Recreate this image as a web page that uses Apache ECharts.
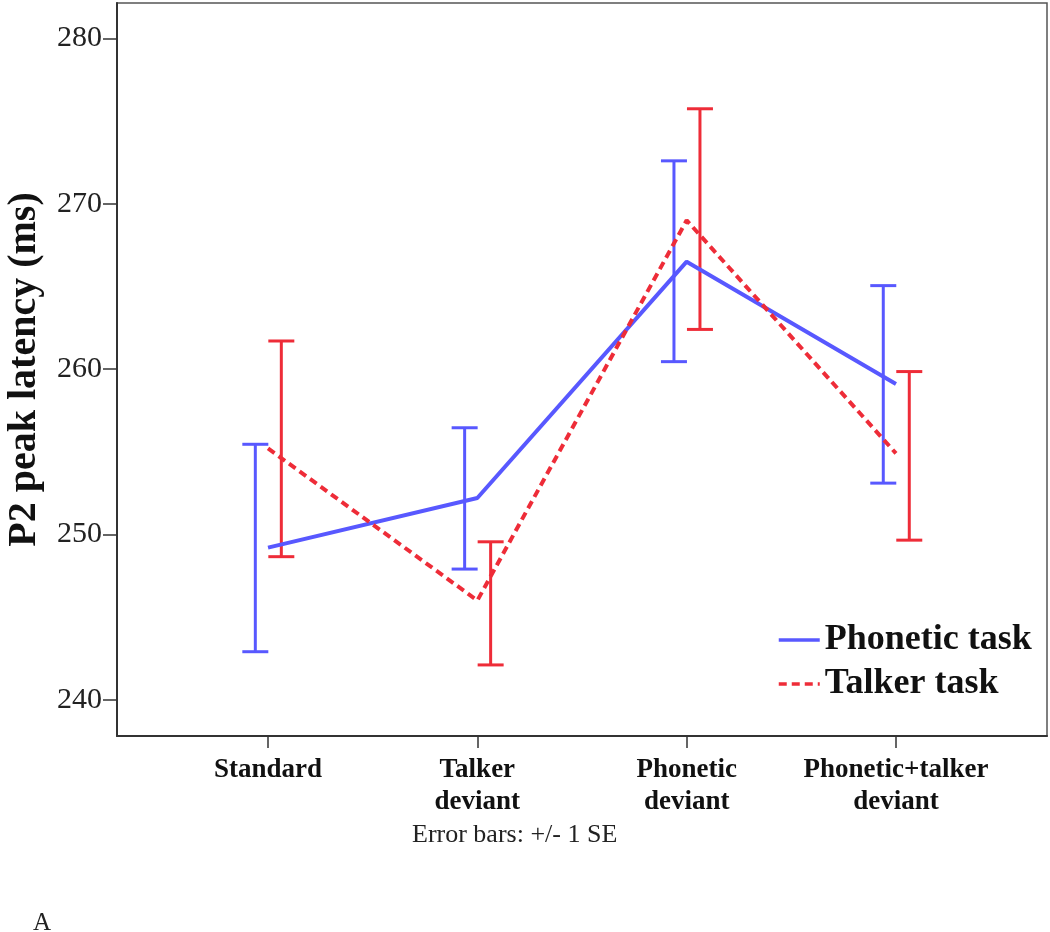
<!DOCTYPE html>
<html>
<head>
<meta charset="utf-8">
<script src="https://cdn.jsdelivr.net/npm/echarts@6/dist/echarts.min.js"></script>
<style>
html,body{margin:0;padding:0;background:#fff;}
#chart{width:1050px;height:932px;}
</style>
</head>
<body>
<div id="chart"></div>
<script>
// ---- data ----
const categories = ['Standard', 'Talker\ndeviant', 'Phonetic\ndeviant', 'Phonetic+talker\ndeviant'];
const yTicks = [240, 250, 260, 270, 280];
const seriesNames = ['Phonetic task', 'Talker task'];
const phoneticMean = [249.2, 252.2, 266.5, 259.1];
const phoneticLow  = [242.9, 247.9, 260.45, 253.1];
const phoneticHigh = [255.45, 256.45, 272.6, 265.05];
const talkerMean = [255.2, 246.0, 269.0, 254.9];
const talkerLow  = [248.65, 242.1, 262.4, 249.65];
const talkerHigh = [261.7, 249.55, 275.75, 259.85];
const errorNote = 'Error bars: +/- 1 SE';
const panelLabel = 'A';

// ---- styling ----
const BLUE = '#5858ff';
const RED = '#ee2c38';
const SERIF = '"Liberation Serif", "Times New Roman", serif';

const idx = categories.map((c, i) => i);
const meanPts = arr => arr.map((v, i) => [idx[i], v]);
const errPts = (lo, hi) => lo.map((v, i) => [idx[i], v, hi[i]]);

function errRender(offsetPx, color) {
  return function (params, api) {
    const x = api.value(0), lo = api.value(1), hi = api.value(2);
    const pLo = api.coord([x, lo]);
    const pHi = api.coord([x, hi]);
    const cx = pLo[0] + offsetPx;
    const hw = 13;
    const style = { stroke: color, lineWidth: 3 };
    return {
      type: 'group',
      children: [
        { type: 'line', shape: { x1: cx, y1: pLo[1], x2: cx, y2: pHi[1] }, style },
        { type: 'line', shape: { x1: cx - hw, y1: pLo[1], x2: cx + hw, y2: pLo[1] }, style },
        { type: 'line', shape: { x1: cx - hw, y1: pHi[1], x2: cx + hw, y2: pHi[1] }, style }
      ]
    };
  };
}

const chart = echarts.init(document.getElementById('chart'), null, { renderer: 'canvas' });
chart.setOption({
  backgroundColor: '#ffffff',
  animation: false,
  grid: {
    left: 117, right: 3, top: 3, bottom: 196,
    outerBoundsMode: 'none', containLabel: false,
    show: true, borderColor: '#555', borderWidth: 1.5, backgroundColor: 'transparent'
  },
  xAxis: {
    type: 'value',
    min: -0.7215, max: 3.7215,
    splitLine: { show: false },
    axisLine: { show: true, onZero: false, lineStyle: { color: '#333', width: 2 } },
    axisTick: { show: true, customValues: idx, length: 12, lineStyle: { color: '#333', width: 1.5 } },
    axisLabel: {
      customValues: idx,
      formatter: v => categories[Math.round(v)] || '',
      fontFamily: SERIF, fontWeight: 'bold', fontSize: 27, lineHeight: 32,
      color: '#111', margin: 18
    }
  },
  yAxis: {
    type: 'value',
    min: 237.8, max: 282.15,
    name: 'P2 peak latency (ms)',
    nameLocation: 'middle',
    nameGap: 72,
    nameTextStyle: { fontFamily: SERIF, fontWeight: 'bold', fontSize: 40, color: '#111' },
    splitLine: { show: false },
    axisLine: { show: true, onZero: false, lineStyle: { color: '#333', width: 2 } },
    axisTick: { show: true, customValues: yTicks, length: 14, lineStyle: { color: '#333', width: 1.5 } },
    axisLabel: {
      customValues: yTicks,
      fontFamily: SERIF, fontSize: 30, color: '#222', margin: 15
    }
  },
  legend: {
    data: seriesNames,
    orient: 'vertical',
    left: 772, top: 615,
    itemWidth: 41, itemHeight: 14, itemGap: 4,
    itemStyle: { opacity: 0 },
    lineStyle: { width: 3.5 },
    textStyle: { fontFamily: SERIF, fontWeight: 'bold', fontSize: 36, color: '#111', lineHeight: 40 }
  },
  series: [
    {
      name: seriesNames[0], type: 'line', data: meanPts(phoneticMean),
      symbol: 'none', z: 3,
      lineStyle: { color: BLUE, width: 4 }, itemStyle: { color: BLUE }
    },
    {
      name: seriesNames[1], type: 'line', data: meanPts(talkerMean),
      symbol: 'none', z: 3,
      lineStyle: { color: RED, width: 4, type: [8, 5] }, itemStyle: { color: RED }
    },
    {
      name: 'phonErr', type: 'custom', data: errPts(phoneticLow, phoneticHigh),
      renderItem: errRender(-12.7, BLUE), z: 2
    },
    {
      name: 'talkErr', type: 'custom', data: errPts(talkerLow, talkerHigh),
      renderItem: errRender(13.3, RED), z: 2
    }
  ],
  graphic: [
    { type: 'text', left: 412, top: 822,
      style: { text: errorNote, font: '26px ' + SERIF, fill: '#222' } },
    { type: 'text', left: 33, top: 911,
      style: { text: panelLabel, font: '25px ' + SERIF, fill: '#222' } }
  ]
});
</script>
</body>
</html>
